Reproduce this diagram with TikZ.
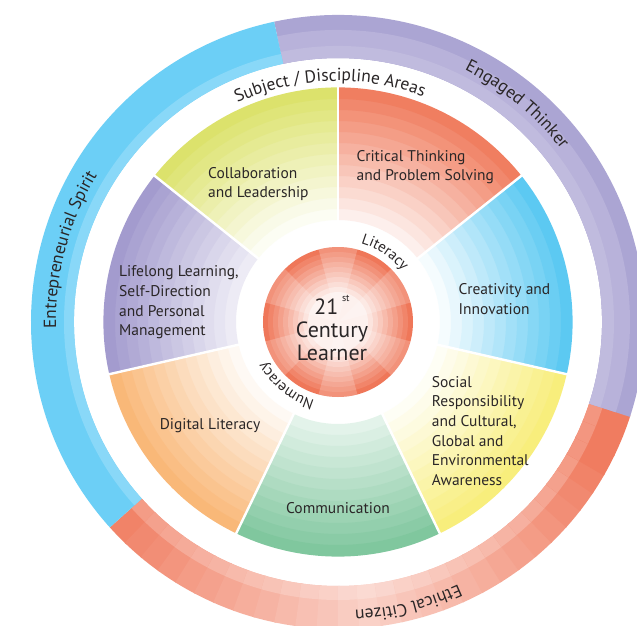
\documentclass[tikz,border=0pt]{standalone}
\usepackage{fontspec}
\setmainfont{PT Sans}
\usetikzlibrary{decorations.text}

\definecolor{collabcol}{HTML}{DCE26C}
\definecolor{critcol}{HTML}{F07E60}
\definecolor{creacol}{HTML}{5CC9F2}
\definecolor{socialcol}{HTML}{F8EE7C}
\definecolor{commcol}{HTML}{80C79E}
\definecolor{digicol}{HTML}{F9B878}
\definecolor{lifecol}{HTML}{A39BCE}
\definecolor{hubcol}{HTML}{EF7759}
\definecolor{spiritcol}{HTML}{6CCFF6}
\definecolor{thinkcol}{HTML}{ABA5D3}
\definecolor{citizencol}{HTML}{F07C60}
\definecolor{inkcol}{HTML}{2A2627}

\newcommand{\ringfont}{\fontsize{17.5}{17.5}\selectfont}
\newcommand{\hubfont}{\fontsize{15}{15}\selectfont}

% banded sector: start angle, end angle, colour, palest percentage
\newcommand{\fadewedge}[4]{%
  \foreach \k in {0,...,11}{
    \pgfmathsetmacro{\ra}{102+11*\k}
    \pgfmathsetmacro{\rb}{\ra+11.6}
    \pgfmathtruncatemacro{\pc}{#4+(100-#4)*\k/11}
    \fill[#3!\pc!white] (#1:\ra) arc (#1:#2:\ra) -- (#2:\rb) arc (#2:#1:\rb) -- cycle;
  }}

\begin{document}
\begin{tikzpicture}[x=1pt,y=1pt,
    wedgetext/.style={align=left, anchor=west, inner sep=0pt, text=inkcol,
      font=\fontsize{15.5}{19.7}\selectfont},
    gapline/.style={white, line width=2.4pt},
    arctext/.style={decorate, decoration={text along path, text align=center,
      text color=inkcol, text={|\ringfont|#1}}},
    hubtext/.style={decorate, decoration={text along path, text align=center,
      text color=inkcol, text={|\hubfont|#1}}}]
  \useasboundingbox (-338,-303) rectangle (299,322);
  \fill[white] (-338,-303) rectangle (299,322);
  \clip (-338,-303) rectangle (299,322);

  % outer ring
  \foreach \a in {222,226,...,338}{
    \pgfmathsetmacro{\b}{\a+4.3}
    \pgfmathtruncatemacro{\pc}{35+65*min(1,abs(\a+2-276)/56)}
    \pgfmathtruncatemacro{\pd}{0.8*\pc}
    \fill[citizencol!\pc!white] (\a:264) arc (\a:\b:264) -- (\b:307) arc (\b:\a:307) -- cycle;
    \fill[citizencol!\pd!white] (\a:264) arc (\a:\b:264) -- (\b:278) arc (\b:\a:278) -- cycle;
  }
  \fill[thinkcol] (-18:264) arc (-18:102:264) -- (102:307) arc (102:-18:307) -- cycle;
  \fill[thinkcol!85!white] (-18:264) arc (-18:102:264) -- (102:292) arc (102:-18:292) -- cycle;
  \fill[thinkcol!75!white] (-18:264) arc (-18:102:264) -- (102:276) arc (102:-18:276) -- cycle;
  \fill[spiritcol] (102:264) arc (102:222:264) -- (222:307) arc (222:102:307) -- cycle;
  \fill[spiritcol!80!white] (102:264) arc (102:222:264) -- (222:274) arc (222:102:274) -- cycle;

  % seven wedges
  \fadewedge{90}{38.571}{critcol}{12}
  \fadewedge{38.571}{-12.857}{creacol}{6}
  \fadewedge{-12.857}{-64.286}{socialcol}{8}
  \fadewedge{-64.286}{-115.714}{commcol}{22}
  \fadewedge{-115.714}{-167.143}{digicol}{8}
  \fadewedge{-167.143}{-218.571}{lifecol}{20}
  \fadewedge{141.429}{90}{collabcol}{8}
  \foreach \a in {90,38.571,-12.857,-64.286,-115.714,-167.143,141.429}
    \draw[gapline] (\a:98) -- (\a:240);

  % hub
  \foreach \k in {0,...,9}{
    \pgfmathtruncatemacro{\pc}{100-10*\k}
    \fill[hubcol!\pc!white] (0,0) circle ({75-5*\k});
  }
  \foreach \a in {75,135,...,375}
    \fill[white, opacity=0.2] (0,0) -- (\a:75) arc (\a:\a+30:75) -- cycle;

  % labels
  \node[wedgetext] (collab) at (-130,138) {Collaboration\\and Leadership};
  \node[wedgetext] (critical) at (18.5,155) {Critical Thinking\\and Problem Solving};
  \node[wedgetext] (creative) at (120.5,23) {Creativity and\\Innovation};
  \node[wedgetext] (social) at (93.7,-109) {Social\\Responsibility\\and Cultural,\\Global and\\Environmental\\Awareness};
  \node[wedgetext, anchor=center] (comms) at (0,-186) {Communication};
  \node[wedgetext, anchor=center] (digital) at (-128,-104) {Digital Literacy};
  \node[wedgetext] (lifelong) at (-219,19.5) {Lifelong Learning,\\Self-Direction\\and Personal\\Management};
  \node[align=center, inner sep=0pt, text=inkcol, font=\fontsize{22}{23}\selectfont] (hub) at (-6,-6)
    {21\,\raisebox{1.2ex}{\fontsize{10}{10}\selectfont st}\\Century\\Learner};

  \path[arctext={Subject / Discipline Areas}] (152:241) arc (152:32:241);
  \path[arctext={Engaged Thinker}] (110:282) arc (110:-9:282);
  \path[arctext={Entrepreneurial Spirit}] (225:282) arc (225:105:282);
  \path[arctext={Ethical Citizen}] (-16:289) arc (-16:-136:289);
  \path[hubtext={Literacy}] (116:82) arc (116:-4:82);
  \path[hubtext={Numeracy}] (291:82) arc (291:171:82);
\end{tikzpicture}
\end{document}
